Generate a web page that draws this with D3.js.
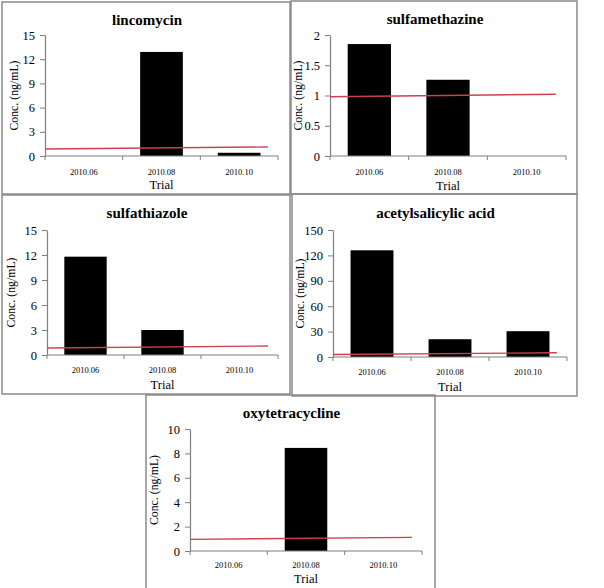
<!DOCTYPE html>
<html><head><meta charset="utf-8">
<script src="https://cdn.jsdelivr.net/npm/d3@7"></script>
<style>
html,body{margin:0;padding:0;background:#fff;}
svg{display:block;font-family:"Liberation Serif","Times New Roman",serif;}
</style></head>
<body>
<svg id="c" width="604" height="588"></svg>
<script>
// ---- data ----
const categories = ["2010.06", "2010.08", "2010.10"];
const titles = ["lincomycin", "sulfamethazine", "sulfathiazole", "acetylsalicylic acid", "oxytetracycline"];
const lincomycin = [0, 12.9, 0.4];
const sulfamethazine = [1.85, 1.26, 0];
const sulfathiazole = [11.8, 3.0, 0];
const acetylsalicylicAcid = [126, 21, 30.5];
const oxytetracycline = [0, 8.45, 0];
// reference (red) line: [start, end]
const refLincomycin = [0.87, 1.12];
const refSulfamethazine = [0.98, 1.02];
const refSulfathiazole = [0.84, 1.08];
const refAcetylsalicylic = [3, 5];
const refOxytetracycline = [0.95, 1.12];
// y tick labels
const ticksLincomycin = [0, 3, 6, 9, 12, 15];
const ticksSulfamethazine = [0, 0.5, 1, 1.5, 2];
const ticksSulfathiazole = [0, 3, 6, 9, 12, 15];
const ticksAcetylsalicylic = [0, 30, 60, 90, 120, 150];
const ticksOxytetracycline = [0, 2, 4, 6, 8, 10];
const xTitle = "Trial";
const yTitle = "Conc. (ng/mL)";

// ---- layout ----
const panels = [
  {values: lincomycin, ref: refLincomycin, ticks: ticksLincomycin, box:[2,2,290,194], x0:45, x1:278, yTop:35, yBot:156, titleY:25, tickY:175, trialY:189, ylabX:14},
  {values: sulfamethazine, ref: refSulfamethazine, ticks: ticksSulfamethazine, box:[291,1,577,194], x0:330, x1:566, yTop:35, yBot:156, titleY:24, tickY:175, trialY:190, ylabX:298},
  {values: sulfathiazole, ref: refSulfathiazole, ticks: ticksSulfathiazole, box:[2,195,290,394], x0:47, x1:278, yTop:230, yBot:355, titleY:218, tickY:373, trialY:389, ylabX:11},
  {values: acetylsalicylicAcid, ref: refAcetylsalicylic, ticks: ticksAcetylsalicylic, box:[292,194,577,396], x0:333, x1:567, yTop:230, yBot:357, titleY:218, tickY:375, trialY:391, ylabX:300},
  {values: oxytetracycline, ref: refOxytetracycline, ticks: ticksOxytetracycline, box:[146,395,435,592], x0:190, x1:422, yTop:429, yBot:551, titleY:418, tickY:568, trialY:583, ylabX:154}
];

const svg = d3.select("#c");
const axisColor = "#7f7f7f";
const serif = "Liberation Serif, Times New Roman, serif";

panels.forEach((p, i) => {
  const g = svg.append("g");
  // frame
  g.append("rect").attr("x", p.box[0]).attr("y", p.box[1])
    .attr("width", p.box[2]-p.box[0]).attr("height", p.box[3]-p.box[1])
    .attr("fill", "none").attr("stroke", "#8a8a8a").attr("stroke-width", 1.5);

  const x = d3.scaleBand().domain(categories).range([p.x0, p.x1])
    .paddingInner(0.45).paddingOuter(0.225);
  const ymax = p.ticks[p.ticks.length-1];
  const y = d3.scaleLinear().domain([0, ymax]).range([p.yBot, p.yTop]);

  // title
  g.append("text").attr("x", (p.box[0]+p.box[2])/2 + 1).attr("y", p.titleY)
    .attr("text-anchor", "middle").attr("font-weight", "bold").attr("font-size", 15)
    .attr("font-family", serif).attr("fill", "#000").text(titles[i]);

  // bars
  g.selectAll("rect.bar").data(p.values).join("rect").attr("class", "bar")
    .attr("x", (d, j) => x(categories[j])).attr("width", x.bandwidth())
    .attr("y", d => y(d)).attr("height", d => y(0) - y(d)).attr("fill", "#000");

  // y axis
  const ya = g.append("g").attr("transform", `translate(${p.x0},0)`)
    .call(d3.axisLeft(y).tickValues(p.ticks).tickSize(5).tickSizeOuter(0).tickPadding(5).tickFormat(d3.format("")));
  ya.attr("font-family", serif);
  ya.select(".domain").attr("stroke", axisColor).attr("stroke-width", 1.2);
  ya.selectAll(".tick line").attr("stroke", axisColor);
  ya.selectAll(".tick text").attr("font-size", 12.5).attr("font-family", serif).attr("fill", "#000");

  // x axis line with boundary ticks
  const step = x.step();
  g.append("line").attr("x1", p.x0).attr("x2", p.x1).attr("y1", p.yBot).attr("y2", p.yBot)
    .attr("stroke", axisColor).attr("stroke-width", 1.2);
  const bounds = d3.range(categories.length + 1).map(k => p.x0 + k*step);
  g.selectAll("line.xt").data(bounds).join("line").attr("class", "xt")
    .attr("x1", d => d).attr("x2", d => d).attr("y1", p.yBot).attr("y2", p.yBot + 4)
    .attr("stroke", axisColor);
  g.selectAll("text.xl").data(categories).join("text").attr("class", "xl")
    .attr("x", d => x(d) + x.bandwidth()/2).attr("y", p.tickY)
    .attr("text-anchor", "middle").attr("font-size", 8.5).attr("font-family", serif)
    .attr("fill", "#000").text(d => d);

  // axis titles
  g.append("text").attr("x", (p.x0+p.x1)/2).attr("y", p.trialY).attr("text-anchor", "middle")
    .attr("font-size", 12.5).attr("font-family", serif).attr("fill", "#000").text(xTitle);
  g.append("text").attr("transform", `translate(${p.ylabX},${(p.yTop+p.yBot)/2}) rotate(-90)`)
    .attr("text-anchor", "middle").attr("dominant-baseline", "central")
    .attr("font-size", 11.8).attr("font-family", serif).attr("fill", "#000").text(yTitle);

  // red reference line
  const rx = [p.x0, p.x1 - step*0.13];
  g.append("line").attr("x1", rx[0]).attr("x2", rx[1])
    .attr("y1", y(p.ref[0])).attr("y2", y(p.ref[1]))
    .attr("stroke", "#cc4050").attr("stroke-width", 1.4);
});
</script>
</body></html>
